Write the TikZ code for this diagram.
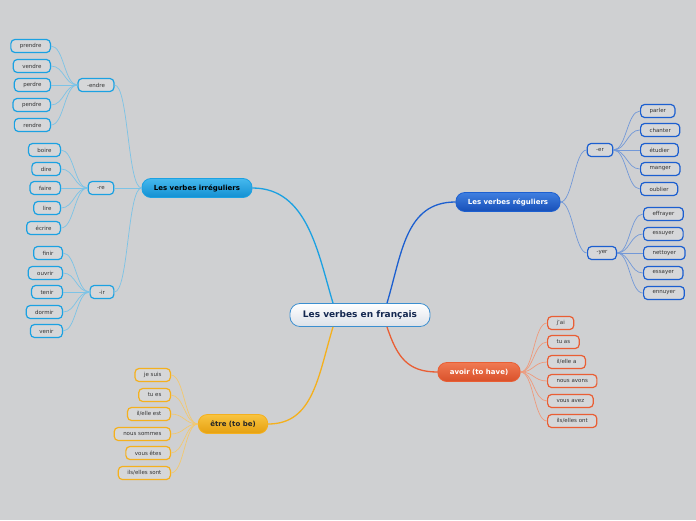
\documentclass[tikz,border=0pt]{standalone}
\usepackage{fontspec}
\setmainfont{DejaVu Sans}
\usetikzlibrary{calc}
\definecolor{bgGray}{HTML}{CFD0D2}
\definecolor{leafFill}{HTML}{D6D7D9}
\definecolor{leafTxt}{HTML}{333333}
\definecolor{rootBlue}{HTML}{3C8FD0}
\definecolor{rootBot}{HTML}{DCE1E8}
\definecolor{rootTxt}{HTML}{142850}
\definecolor{irrBlue}{HTML}{1BA1E2}
\definecolor{irrTop}{HTML}{45B8EE}
\definecolor{irrBot}{HTML}{1390D2}
\definecolor{irrLine}{HTML}{7CC3E6}
\definecolor{regBlue}{HTML}{1C5FD0}
\definecolor{regTop}{HTML}{3F7FE0}
\definecolor{regBot}{HTML}{174FB8}
\definecolor{regLine}{HTML}{7298D8}
\definecolor{avoRed}{HTML}{E95E34}
\definecolor{avoTop}{HTML}{F07A52}
\definecolor{avoBot}{HTML}{D9502A}
\definecolor{avoLine}{HTML}{EE9A7C}
\definecolor{etrOr}{HTML}{F4B01E}
\definecolor{etrTop}{HTML}{F8C440}
\definecolor{etrBot}{HTML}{E6A010}
\definecolor{etrLine}{HTML}{F2C870}

\begin{document}
\begin{tikzpicture}[
  x=1pt, y=1pt,
  hub/.style={
    draw, rounded corners=9pt, align=center, inner xsep=12pt, inner ysep=0pt,
    minimum height=19pt, line width=0.8pt,
    font=\fontsize{7}{8}\selectfont\bfseries},
  rootbox/.style={hub, draw=rootBlue, top color=white, bottom color=rootBot,
    text=rootTxt, minimum height=23pt, rounded corners=10pt, inner xsep=13pt,
    font=\fontsize{9}{10}\selectfont\bfseries},
  irr/.style={hub, draw=irrBlue, top color=irrTop, bottom color=irrBot, text=black},
  reg/.style={hub, draw=regBlue, top color=regTop, bottom color=regBot, text=white},
  avo/.style={hub, draw=avoRed, top color=avoTop, bottom color=avoBot, text=white},
  etr/.style={hub, draw=etrOr, top color=etrTop, bottom color=etrBot, text=black!85},
  leaf/.style={
    draw, rounded corners=4pt, fill=leafFill, text=leafTxt, inner xsep=9pt,
    inner ysep=0pt, minimum height=13pt, line width=1.2pt,
    font=\fontsize{5.5}{6}\selectfont},
  irrleaf/.style={leaf, draw=irrBlue},
  regleaf/.style={leaf, draw=regBlue},
  avoleaf/.style={leaf, draw=avoRed},
  etrleaf/.style={leaf, draw=etrOr},
  trunk/.style={line width=1.3pt},
  twig/.style={line width=0.7pt},
]

\fill[bgGray] (0,0) rectangle (696,-520);
\useasboundingbox (0,0) rectangle (696,-520);

% ---------------- centre and main branches ----------------
\node[rootbox] (root) at (360,-315) {Les verbes en français};

\node[irr] (irreg) at (197,-188) {Les verbes irréguliers};
\node[reg] (regul) at (508,-202) {Les verbes réguliers};
\node[avo] (avoir) at (479,-372) {avoir (to have)};
\node[etr] (etre)  at (233,-424) {être (to be)};

% ---------------- irregular verbs ----------------
\node[irrleaf] (endre) at (96,-85)  {-endre};
\node[irrleaf] (re)    at (101,-188) {-re};
\node[irrleaf] (ir)    at (102,-292) {-ir};

\node[irrleaf, anchor=east] (prendre) at (51,-46)  {prendre};
\node[irrleaf, anchor=east] (vendre)  at (51,-66)  {vendre};
\node[irrleaf, anchor=east] (perdre)  at (51,-85)  {perdre};
\node[irrleaf, anchor=east] (pendre)  at (51,-105) {pendre};
\node[irrleaf, anchor=east] (rendre)  at (51,-125) {rendre};

\node[irrleaf, anchor=east] (boire)  at (61,-150) {boire};
\node[irrleaf, anchor=east] (dire)   at (61,-169) {dire};
\node[irrleaf, anchor=east] (faire)  at (61,-188) {faire};
\node[irrleaf, anchor=east] (lire)   at (61,-208) {lire};
\node[irrleaf, anchor=east] (ecrire) at (61,-228) {écrire};

\node[irrleaf, anchor=east] (finir)  at (63,-253) {finir};
\node[irrleaf, anchor=east] (ouvrir) at (63,-273) {ouvrir};
\node[irrleaf, anchor=east] (tenir)  at (63,-292) {tenir};
\node[irrleaf, anchor=east] (dormir) at (63,-312) {dormir};
\node[irrleaf, anchor=east] (venir)  at (63,-331) {venir};

% ---------------- regular verbs ----------------
\node[regleaf] (er)  at (600,-150) {-er};
\node[regleaf] (yer) at (602,-253) {-yer};

\node[regleaf, anchor=west] (parler)  at (640,-111) {parler};
\node[regleaf, anchor=west] (chanter) at (640,-130) {chanter};
\node[regleaf, anchor=west] (etudier) at (640,-150) {étudier};
\node[regleaf, anchor=west] (manger)  at (640,-169) {manger};
\node[regleaf, anchor=west] (oublier) at (640,-189) {oublier};

\node[regleaf, anchor=west] (effrayer) at (643,-214) {effrayer};
\node[regleaf, anchor=west] (essuyer)  at (643,-234) {essuyer};
\node[regleaf, anchor=west] (nettoyer) at (643,-253) {nettoyer};
\node[regleaf, anchor=west] (essayer)  at (643,-273) {essayer};
\node[regleaf, anchor=west] (ennuyer)  at (643,-293) {ennuyer};

% ---------------- avoir ----------------
\node[avoleaf, anchor=west] (ai)    at (547,-323) {j'ai};
\node[avoleaf, anchor=west] (tuas)  at (547,-342) {tu as};
\node[avoleaf, anchor=west] (ila)   at (547,-362) {il/elle a};
\node[avoleaf, anchor=west] (avons) at (547,-381) {nous avons};
\node[avoleaf, anchor=west] (avez)  at (547,-401) {vous avez};
\node[avoleaf, anchor=west] (ont)   at (547,-421) {ils/elles ont};

% ---------------- etre ----------------
\node[etrleaf, anchor=east] (suis)   at (171,-375) {je suis};
\node[etrleaf, anchor=east] (tues)   at (171,-395) {tu es};
\node[etrleaf, anchor=east] (ilest)  at (171,-414) {il/elle est};
\node[etrleaf, anchor=east] (sommes) at (171,-434) {nous sommes};
\node[etrleaf, anchor=east] (etes)   at (171,-453) {vous êtes};
\node[etrleaf, anchor=east] (sont)   at (171,-473) {ils/elles sont};

% ---------------- connectors ----------------
\draw[trunk, irrBlue] ($(root.north)+(-27,0)$) .. controls +(-15,50) and +(55,0) .. (irreg.east);
\draw[trunk, regBlue] ($(root.north)+(27,0)$) .. controls +(15,50) and +(-50,0) .. (regul.west);
\draw[trunk, avoRed]  ($(root.south)+(27,0)$) .. controls +(10,-30) and +(-30,0) .. (avoir.west);
\draw[trunk, etrOr]   ($(root.south)+(-27,0)$) .. controls +(-15,-50) and +(45,0) .. (etre.east);

\draw[twig, irrLine] (irreg.west) .. controls +(-14,0) and +(14,0) .. (endre.east);
\draw[twig, irrLine] (irreg.west) -- (re.east);
\draw[twig, irrLine] (irreg.west) .. controls +(-14,0) and +(14,0) .. (ir.east);

\draw[twig, irrLine] (endre.west) .. controls +(-13,0) and +(13,0) .. (prendre.east);
\draw[twig, irrLine] (endre.west) .. controls +(-13,0) and +(13,0) .. (vendre.east);
\draw[twig, irrLine] (endre.west) -- (perdre.east);
\draw[twig, irrLine] (endre.west) .. controls +(-13,0) and +(13,0) .. (pendre.east);
\draw[twig, irrLine] (endre.west) .. controls +(-13,0) and +(13,0) .. (rendre.east);

\draw[twig, irrLine] (re.west) .. controls +(-13,0) and +(13,0) .. (boire.east);
\draw[twig, irrLine] (re.west) .. controls +(-13,0) and +(13,0) .. (dire.east);
\draw[twig, irrLine] (re.west) -- (faire.east);
\draw[twig, irrLine] (re.west) .. controls +(-13,0) and +(13,0) .. (lire.east);
\draw[twig, irrLine] (re.west) .. controls +(-13,0) and +(13,0) .. (ecrire.east);

\draw[twig, irrLine] (ir.west) .. controls +(-13,0) and +(13,0) .. (finir.east);
\draw[twig, irrLine] (ir.west) .. controls +(-13,0) and +(13,0) .. (ouvrir.east);
\draw[twig, irrLine] (ir.west) -- (tenir.east);
\draw[twig, irrLine] (ir.west) .. controls +(-13,0) and +(13,0) .. (dormir.east);
\draw[twig, irrLine] (ir.west) .. controls +(-13,0) and +(13,0) .. (venir.east);

\draw[twig, regLine] (regul.east) .. controls +(12,0) and +(-12,0) .. (er.west);
\draw[twig, regLine] (regul.east) .. controls +(12,0) and +(-12,0) .. (yer.west);

\draw[twig, regLine] (er.east) .. controls +(13,0) and +(-13,0) .. (parler.west);
\draw[twig, regLine] (er.east) .. controls +(13,0) and +(-13,0) .. (chanter.west);
\draw[twig, regLine] (er.east) -- (etudier.west);
\draw[twig, regLine] (er.east) .. controls +(13,0) and +(-13,0) .. (manger.west);
\draw[twig, regLine] (er.east) .. controls +(13,0) and +(-13,0) .. (oublier.west);

\draw[twig, regLine] (yer.east) .. controls +(13,0) and +(-13,0) .. (effrayer.west);
\draw[twig, regLine] (yer.east) .. controls +(13,0) and +(-13,0) .. (essuyer.west);
\draw[twig, regLine] (yer.east) -- (nettoyer.west);
\draw[twig, regLine] (yer.east) .. controls +(13,0) and +(-13,0) .. (essayer.west);
\draw[twig, regLine] (yer.east) .. controls +(13,0) and +(-13,0) .. (ennuyer.west);

\draw[twig, avoLine] (avoir.east) .. controls +(13,0) and +(-13,0) .. (ai.west);
\draw[twig, avoLine] (avoir.east) .. controls +(13,0) and +(-13,0) .. (tuas.west);
\draw[twig, avoLine] (avoir.east) .. controls +(13,0) and +(-13,0) .. (ila.west);
\draw[twig, avoLine] (avoir.east) .. controls +(13,0) and +(-13,0) .. (avons.west);
\draw[twig, avoLine] (avoir.east) .. controls +(13,0) and +(-13,0) .. (avez.west);
\draw[twig, avoLine] (avoir.east) .. controls +(13,0) and +(-13,0) .. (ont.west);

\draw[twig, etrLine] (etre.west) .. controls +(-13,0) and +(13,0) .. (suis.east);
\draw[twig, etrLine] (etre.west) .. controls +(-13,0) and +(13,0) .. (tues.east);
\draw[twig, etrLine] (etre.west) .. controls +(-13,0) and +(13,0) .. (ilest.east);
\draw[twig, etrLine] (etre.west) .. controls +(-13,0) and +(13,0) .. (sommes.east);
\draw[twig, etrLine] (etre.west) .. controls +(-13,0) and +(13,0) .. (etes.east);
\draw[twig, etrLine] (etre.west) .. controls +(-13,0) and +(13,0) .. (sont.east);

\end{tikzpicture}
\end{document}
